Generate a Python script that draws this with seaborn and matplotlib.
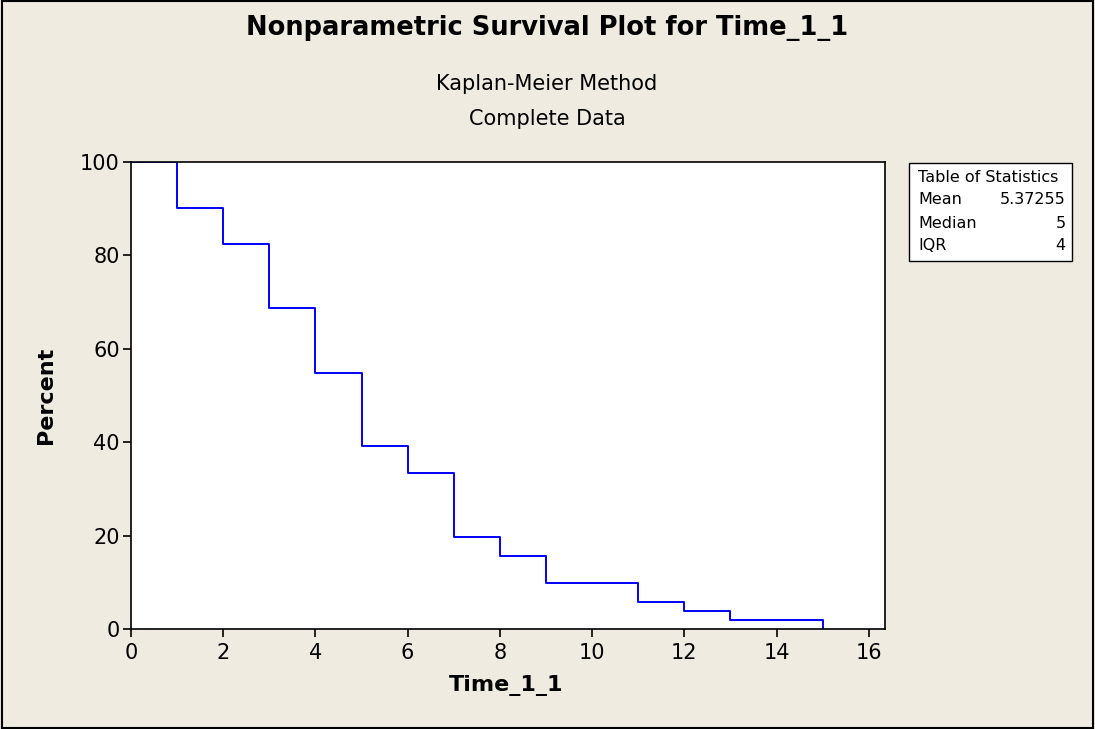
import seaborn as sns
import pandas as pd
import matplotlib.pyplot as plt
from matplotlib.patches import Rectangle

# Kaplan-Meier estimate, 51 units, no censoring
times = [0, 1, 2, 3, 4, 5, 6, 7, 8, 9, 11, 12, 13, 15]
surviving = [51, 46, 42, 35, 28, 20, 17, 10, 8, 5, 3, 2, 1, 0]
n_units = 51

stat_names = ["Mean", "Median", "IQR"]
stat_values = ["5.37255", "5", "4"]

df = pd.DataFrame({"Time_1_1": times,
                   "Percent": [100.0 * s / n_units for s in surviving]})

sns.set_style("white")
plt.rcParams['font.family'] = ['DejaVu Sans']
plt.rcParams['text.color'] = 'black'
plt.rcParams['axes.labelcolor'] = 'black'
plt.rcParams['xtick.color'] = 'black'
plt.rcParams['ytick.color'] = 'black'
bg = '#EFEBE1'

fig = plt.figure(figsize=(10.95, 7.29), dpi=100)
fig.patch.set_facecolor(bg)
ax = fig.add_axes([0.1196, 0.1372, 0.8082 - 0.1196, 0.7778 - 0.1372])
ax.set_facecolor('white')

sns.lineplot(x='Time_1_1', y='Percent', data=df, drawstyle='steps-post',
             color='#0000FF', linewidth=1.4, ax=ax)

ax.set_xlim(0, 16.35)
ax.set_ylim(0, 100)
ax.set_xticks(range(0, 17, 2))
ax.set_yticks(range(0, 101, 20))
ax.tick_params(axis='both', direction='out', length=6, width=1.2,
               labelsize=15, bottom=True, left=True, pad=2)
ax.tick_params(axis='x', pad=4)
for s in ax.spines.values():
    s.set_color('black')
    s.set_linewidth(1.2)
ax.set_xlabel('Time_1_1', fontsize=16, fontweight='bold', va='center')
ax.set_ylabel('Percent', fontsize=16, fontweight='bold', va='center')
ax.xaxis.set_label_coords(0.497, -0.12)
ax.yaxis.set_label_coords(-0.113, 0.5)

fig.text(0.4995, 0.9616, 'Nonparametric Survival Plot for Time_1_1',
         ha='center', va='center', fontsize=18.5, fontweight='bold')
fig.text(0.4995, 0.8848, 'Kaplan-Meier Method', ha='center', va='center', fontsize=15)
fig.text(0.4995, 0.8368, 'Complete Data', ha='center', va='center', fontsize=15)

# table of statistics box
bx0, bx1 = 909 / 1095, 1072 / 1095
by1, by0 = 1 - 163 / 729, 1 - 261 / 729
fig.patches.append(Rectangle((bx0, by0), bx1 - bx0, by1 - by0, transform=fig.transFigure,
                             facecolor='white', edgecolor='black', linewidth=1))
fig.text(bx0 + 0.0085, 1 - 177 / 729, 'Table of Statistics', ha='left', va='center', fontsize=11.5)
for i, (nm, val) in enumerate(zip(stat_names, stat_values)):
    yy = 1 - (177 + 23 * (i + 1)) / 729
    fig.text(bx0 + 0.0085, yy, nm, ha='left', va='center', fontsize=11.5)
    fig.text(bx1 - 0.006, yy, val, ha='right', va='center', fontsize=11.5)

# outer frame
fig.patches.append(Rectangle((0.002, 0.002), 0.996, 0.996, transform=fig.transFigure,
                             facecolor='none', edgecolor='black', linewidth=1.5))

plt.savefig('out.png', dpi=100, facecolor=bg)
